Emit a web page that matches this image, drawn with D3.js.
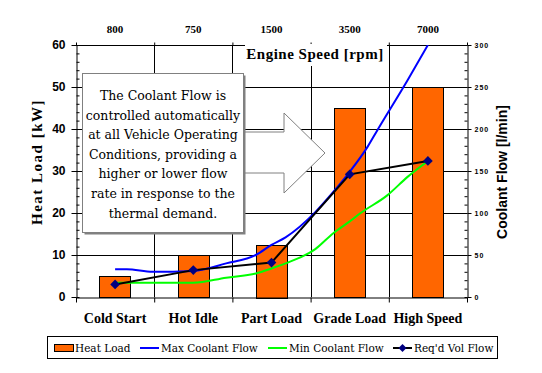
<!DOCTYPE html>
<html>
<head>
<meta charset="utf-8">
<script src="https://cdn.jsdelivr.net/npm/d3@7"></script>
<style>
  body { margin: 0; background: #fff; }
  svg { display: block; }
</style>
</head>
<body>
<svg id="chart" width="542" height="373"></svg>
<script>
// categories and top-axis engine speeds
var categories = ['Cold Start', 'Hot Idle', 'Part Load', 'Grade Load', 'High Speed'];
var engineSpeeds = ['800', '750', '1500', '3500', '7000'];

// heat load [kW] per category (bars, left axis)
var heatLoad = [5, 10, 12.5, 45, 50];

// required volume flow [l/min] per category (right axis)
var reqdFlow = [15, 32, 41, 146, 162];

// max / min coolant flow curves:
// position along the category axis (0 = Cold Start ... 4 = High Speed), value in l/min
var maxFlowPos = [0, 0.15, 0.48, 1.0, 1.42, 1.8, 2.0, 2.18, 2.56, 2.79, 3.0, 3.23, 3.35, 3.74, 4.0];
var maxFlowVal = [33, 33, 30, 31, 40, 50, 62, 71, 101, 125, 149, 179, 198, 258, 300];
var minFlowPos = [0, 0.48, 1.0, 1.42, 1.8, 2.0, 2.18, 2.56, 2.79, 3.0, 3.14, 3.48, 3.74, 4.0];
var minFlowVal = [17, 17, 17, 23, 28, 34, 40, 57, 76, 90, 100, 121, 143, 162];

// callout text
var calloutLines = ['The Coolant Flow is', 'controlled automatically', 'at all Vehicle Operating',
  'Conditions, providing a', 'higher or lower flow', 'rate in response to the', 'thermal  demand.'];

var legendItems = [
  { name: 'Heat Load', type: 'bar', color: '#FF6600', x: 54 },
  { name: 'Max Coolant Flow', type: 'line', color: '#0000FF', x: 140 },
  { name: 'Min Coolant Flow', type: 'line', color: '#00FF00', x: 268 },
  { name: "Req'd Vol Flow", type: 'marker', color: '#000000', x: 393 }
];

var SERIF = "'Liberation Serif', 'Times New Roman', serif",
    SERIF_REG = "'DejaVu Serif', serif",
    SANS = "'Liberation Sans', Arial, sans-serif";

var plotLeft = 76, plotRight = 467, plotTop = 45, plotBottom = 297;

var svg = d3.select('#chart');

var x = d3.scaleBand().domain(categories).range([plotLeft, plotRight]);
var xEdge = d3.scaleLinear().domain([0, categories.length]).range([plotLeft, plotRight]);
var xPos = d3.scaleLinear().domain([0, categories.length - 1])
  .range([x(categories[0]) + x.bandwidth() / 2, x(categories[categories.length - 1]) + x.bandwidth() / 2]);
var yL = d3.scaleLinear().domain([0, 60]).range([plotBottom, plotTop]);
var yR = d3.scaleLinear().domain([0, 300]).range([plotBottom, plotTop]);

svg.append('defs').append('clipPath').attr('id', 'plotClip')
  .append('rect').attr('x', plotLeft).attr('y', plotTop)
  .attr('width', plotRight - plotLeft).attr('height', plotBottom - plotTop);

// horizontal gridlines
svg.append('g').selectAll('line').data(d3.range(10, 61, 10)).enter().append('line')
  .attr('x1', plotLeft).attr('x2', plotRight)
  .attr('y1', function (d) { return Math.round(yL(d)) + 0.5; })
  .attr('y2', function (d) { return Math.round(yL(d)) + 0.5; })
  .attr('stroke', '#000');

// vertical gridlines at category boundaries
svg.append('g').selectAll('line').data(d3.range(1, categories.length)).enter().append('line')
  .attr('x1', function (d) { return Math.round(xEdge(d)) + 0.5; })
  .attr('x2', function (d) { return Math.round(xEdge(d)) + 0.5; })
  .attr('y1', plotTop).attr('y2', plotBottom)
  .attr('stroke', '#000');

// bars
var barW = x.bandwidth() * 0.4;
svg.append('g').selectAll('rect').data(heatLoad).enter().append('rect')
  .attr('x', function (d, i) { return Math.round(x(categories[i]) + (x.bandwidth() - barW) / 2) + 0.5; })
  .attr('y', function (d) { return Math.round(yL(d)) + 0.5; })
  .attr('width', Math.round(barW))
  .attr('height', function (d) { return Math.round(plotBottom - yL(d)); })
  .attr('fill', '#FF6600').attr('stroke', '#000');

// category edges (ticks below / above)
svg.append('g').attr('transform', 'translate(0,' + (plotBottom + 0.5) + ')')
  .call(d3.axisBottom(xEdge).ticks(5).tickFormat('').tickSize(5).tickSizeOuter(0));
svg.append('g').attr('transform', 'translate(0,' + (plotTop + 0.5) + ')')
  .call(d3.axisTop(xEdge).ticks(5).tickFormat('').tickSize(3).tickSizeOuter(0))
  .call(function (g) { g.select('.domain').remove(); });

// category labels
svg.append('g').attr('transform', 'translate(0,' + plotBottom + ')')
  .call(d3.axisBottom(x).tickSize(0).tickPadding(16))
  .call(function (g) {
    g.select('.domain').remove();
    g.attr('font-family', null);
    g.selectAll('text').attr('font-family', SERIF).attr('font-size', 14).attr('font-weight', 'bold')
      .attr('fill', '#000');
  });

// top engine speed labels
svg.append('g').attr('transform', 'translate(0,' + plotTop + ')')
  .call(d3.axisTop(x).tickSize(0).tickPadding(12).tickFormat(function (d, i) { return engineSpeeds[i]; }))
  .call(function (g) {
    g.select('.domain').remove();
    g.attr('font-family', null);
    g.selectAll('text').attr('font-family', SERIF).attr('font-size', 11).attr('font-weight', 'bold')
      .attr('fill', '#000');
  });

// left axis
var leftAxis = svg.append('g').attr('transform', 'translate(' + (plotLeft + 0.5) + ',0)');
leftAxis.call(d3.axisLeft(yL).tickValues(d3.range(0, 61, 10)).tickSize(5).tickSizeOuter(0).tickPadding(6))
  .call(function (g) {
    g.selectAll('text').attr('font-family', SANS).attr('font-size', 12).attr('font-weight', 'bold')
      .attr('fill', '#000');
  });
leftAxis.append('g').call(d3.axisRight(yL).tickValues(d3.range(0, 61, 2)).tickSize(3).tickFormat(''))
  .call(function (g) { g.select('.domain').remove(); });

// right axis
var rightAxis = svg.append('g').attr('transform', 'translate(' + (plotRight + 0.5) + ',0)');
rightAxis.call(d3.axisRight(yR).tickValues(d3.range(0, 301, 50)).tickSize(4).tickSizeOuter(0).tickPadding(3))
  .call(function (g) {
    g.selectAll('text').attr('font-family', SANS).attr('font-size', 7).attr('font-weight', 'bold')
      .attr('letter-spacing', 1).attr('fill', '#000');
  });
rightAxis.append('g').call(d3.axisLeft(yR).tickValues(d3.range(0, 301, 10)).tickSize(3).tickFormat(''))
  .call(function (g) { g.select('.domain').remove(); });
svg.selectAll('.tick line, .domain').attr('stroke', '#000');

// axis titles
svg.append('text').attr('font-family', SERIF).attr('font-size', 15).attr('font-weight', 'bold')
  .attr('letter-spacing', 1.5)
  .attr('text-anchor', 'middle')
  .attr('transform', 'translate(42,162) rotate(-90)')
  .text('Heat Load [kW]');
svg.append('text').attr('font-family', SANS).attr('font-size', 14).attr('font-weight', 'bold')
  .attr('text-anchor', 'middle')
  .attr('transform', 'translate(507,172) rotate(-90)')
  .text('Coolant Flow [l/min]');

// coolant flow lines
var curve = d3.line()
  .x(function (d) { return xPos(d[0]); })
  .y(function (d) { return yR(d[1]); })
  .curve(d3.curveMonotoneX);
var straight = d3.line()
  .x(function (d) { return xPos(d[0]); })
  .y(function (d) { return yR(d[1]); });

var lines = svg.append('g').attr('clip-path', 'url(#plotClip)');
lines.append('path').datum(d3.zip(maxFlowPos, maxFlowVal))
  .attr('d', curve).attr('fill', 'none').attr('stroke', '#0000FF').attr('stroke-width', 2);
lines.append('path').datum(d3.zip(minFlowPos, minFlowVal))
  .attr('d', curve).attr('fill', 'none').attr('stroke', '#00FF00').attr('stroke-width', 2);
var reqd = reqdFlow.map(function (v, i) { return [i, v]; });
lines.append('path').datum(reqd)
  .attr('d', straight).attr('fill', 'none').attr('stroke', '#000').attr('stroke-width', 2);
svg.append('g').selectAll('path').data(reqd).enter().append('path')
  .attr('d', d3.symbol().type(d3.symbolDiamond2).size(60))
  .attr('transform', function (d) { return 'translate(' + xPos(d[0]) + ',' + yR(d[1]) + ')'; })
  .attr('fill', '#000080');

// "Engine Speed [rpm]" title with white background over the top gridline
svg.append('rect').attr('x', 245).attr('y', 44).attr('width', 142).attr('height', 22).attr('fill', '#fff');
svg.append('text').attr('font-family', SERIF).attr('font-size', 15).attr('font-weight', 'bold')
  .attr('letter-spacing', 0.5)
  .attr('x', 315).attr('y', 59).attr('text-anchor', 'middle')
  .text('Engine Speed [rpm]');

// callout arrow
var arrowPts = [[243, 132], [284, 132], [284, 113], [325, 153], [284, 193], [284, 173], [243, 173]];
svg.append('polygon').attr('points', arrowPts.map(function (p) { return p.join(','); }).join(' '))
  .attr('fill', '#fff').attr('stroke', '#808080').attr('stroke-width', 1);

// callout box
svg.append('rect').attr('x', 84.5).attr('y', 75.5).attr('width', 161).attr('height', 159)
  .attr('fill', '#808080');
svg.append('rect').attr('x', 82.5).attr('y', 73.5).attr('width', 161).attr('height', 159)
  .attr('fill', '#fff').attr('stroke', '#808080');
svg.append('text').attr('font-family', SERIF_REG).attr('font-size', 12.5)
  .attr('text-anchor', 'middle').attr('fill', '#000')
  .selectAll('tspan').data(calloutLines).enter().append('tspan')
  .attr('x', 163).attr('y', function (d, i) { return 100 + i * 19.6; })
  .text(function (d) { return d; });

// legend
var legend = svg.append('g');
legend.append('rect').attr('x', 47.5).attr('y', 336.5).attr('width', 450).attr('height', 22)
  .attr('fill', '#fff').attr('stroke', '#000');
var li = legend.selectAll('g.item').data(legendItems).enter().append('g')
  .attr('transform', function (d) { return 'translate(' + d.x + ',0)'; });
li.filter(function (d) { return d.type === 'bar'; }).append('rect')
  .attr('x', 0.5).attr('y', 344.5).attr('width', 19).attr('height', 7)
  .attr('fill', '#FF6600').attr('stroke', '#000');
li.filter(function (d) { return d.type !== 'bar'; }).append('line')
  .attr('x1', 0).attr('x2', 19).attr('y1', 348).attr('y2', 348)
  .attr('stroke', function (d) { return d.color; }).attr('stroke-width', 2);
li.filter(function (d) { return d.type === 'marker'; }).append('path')
  .attr('d', d3.symbol().type(d3.symbolDiamond2).size(40))
  .attr('transform', 'translate(9.5,348)').attr('fill', '#000080');
li.append('text').attr('font-family', SERIF_REG).attr('font-size', 10.5)
  .attr('x', 21).attr('y', 352).attr('fill', '#000')
  .text(function (d) { return d.name; });
</script>
</body>
</html>
